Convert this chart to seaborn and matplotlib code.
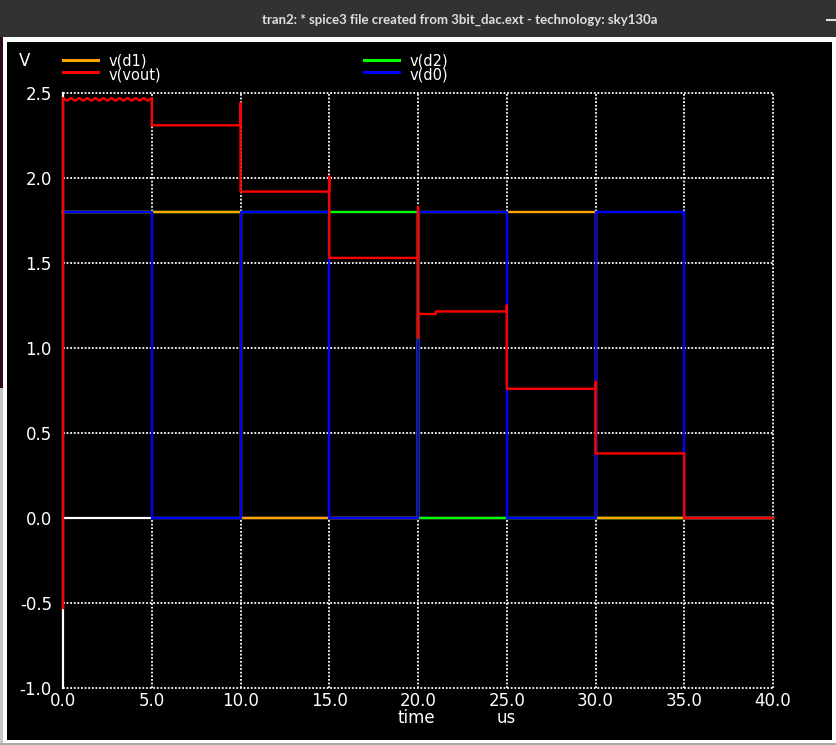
import matplotlib
matplotlib.use('Agg')
import pandas as pd
import matplotlib.pyplot as plt
import seaborn as sns
from matplotlib.patches import Rectangle
from matplotlib.lines import Line2D

# transient result of the 3 bit dac (time in us, volts)
step_edges = [0, 5, 10, 15, 20, 25, 30, 35, 40]
d0_bits = [1, 0, 1, 0, 1, 0, 1, 0]
d1_bits = [1, 1, 0, 0, 1, 1, 0, 0]
d2_bits = [1, 1, 1, 1, 0, 0, 0, 0]
logic_high = 1.8

# vout: start point, small ripple on the first code, then the steps with glitches
vout_start_t = [0.0]
vout_start_v = [-0.53]
ripple_t = [0.0, 0.23, 0.45, 0.68, 0.91, 1.14, 1.36, 1.59, 1.82, 2.05, 2.27, 2.5,
            2.73, 2.95, 3.18, 3.41, 3.64, 3.86, 4.09, 4.32, 4.55, 4.77, 5.0]
ripple_v = [2.47, 2.455, 2.47, 2.455, 2.47, 2.455, 2.47, 2.455, 2.47, 2.455, 2.47, 2.455,
            2.47, 2.455, 2.47, 2.455, 2.47, 2.455, 2.47, 2.455, 2.47, 2.455, 2.47]
vout_rest_t = [5, 10, 10, 10, 15, 15, 15, 20, 20, 20, 20, 21, 21, 25, 25, 25, 30, 30, 30, 35, 35, 40]
vout_rest_v = [2.31, 2.31, 2.44, 1.92, 1.92, 2.01, 1.53, 1.53, 1.83, 1.06, 1.20, 1.20, 1.215,
               1.215, 1.25, 0.76, 0.76, 0.80, 0.38, 0.38, 0.0, 0.0]

y_ticks = [-1.0, -0.5, 0.0, 0.5, 1.0, 1.5, 2.0, 2.5]

colors = {'v(d1)': '#ffa500', 'v(vout)': '#ff0000', 'v(d2)': '#00ff00', 'v(d0)': '#0000ff'}
draw_order = ['v(d2)', 'v(d1)', 'v(d0)', 'v(vout)']
title = 'tran2: * spice3 file created from 3bit_dac.ext - technology: sky130a'


def step_wave(bits):
    t, v = [], []
    for i, b in enumerate(bits):
        t += [step_edges[i], step_edges[i + 1]]
        v += [b * logic_high, b * logic_high]
    return t, v


frames = []
for name, bits in [('v(d2)', d2_bits), ('v(d1)', d1_bits), ('v(d0)', d0_bits)]:
    t, v = step_wave(bits)
    frames.append(pd.DataFrame({'t': t, 'v': v, 'signal': name}))
frames.append(pd.DataFrame({'t': vout_start_t + ripple_t + vout_rest_t,
                            'v': vout_start_v + ripple_v + vout_rest_v,
                            'signal': 'v(vout)'}))
df = pd.concat(frames, ignore_index=True)

W, H = 836, 745


def fx(x):
    return x / W


def fy(y):
    return 1 - y / H


fig = plt.figure(figsize=(W / 100, H / 100), dpi=100, facecolor='white')

# window decoration
fig.patches.append(Rectangle((0, fy(37)), 1, 37 / H, transform=fig.transFigure,
                             facecolor='#323232', edgecolor='none', zorder=-1))
fig.patches.append(Rectangle((0, fy(388)), fx(3), 351 / H, transform=fig.transFigure,
                             facecolor='#2c0b22', edgecolor='none', zorder=-1))
fig.patches.append(Rectangle((0, 0), fx(3), fy(388), transform=fig.transFigure,
                             facecolor='#c8c8c8', edgecolor='none', zorder=-1))
fig.patches.append(Rectangle((0, 0), 1, 2 / H, transform=fig.transFigure,
                             facecolor='#a8a8a8', edgecolor='none', zorder=-1))
fig.patches.append(Rectangle((fx(7), fy(740)), 825 / W, 698 / H, transform=fig.transFigure,
                             facecolor='black', edgecolor='none', zorder=-1))
fig.text(fx(459.5), fy(20), title, ha='center', va='center', fontsize=9.5,
         fontweight='bold', family='Lato', color='#dedede')
fig.lines.append(Line2D([fx(827), fx(835)], [fy(20), fy(20)], transform=fig.transFigure,
                        color='#e0e0e0', lw=1.5))

ax = fig.add_axes([fx(63), fy(688), 710 / W, 595 / H])
ax.set_zorder(1)
ax.set_facecolor('black')
for s in ax.spines.values():
    s.set_visible(False)

# grid: dotted, with solid zero axes
for x in step_edges[1:]:
    ax.axvline(x, color='white', lw=1.3, ls=(0, (1, 1)), zorder=0)
for y in y_ticks:
    if y != 0:
        ax.axhline(y, color='white', lw=1.3, ls=(0, (1, 1)), zorder=0)
ax.axvline(0, color='white', lw=1.6, zorder=0)
ax.axhline(0, color='white', lw=1.6, zorder=0)

sns.lineplot(data=df, x='t', y='v', hue='signal', hue_order=draw_order, palette=colors,
             sort=False, estimator=None, legend=False, lw=1.7, ax=ax)
for line in ax.lines:
    line.set_clip_on(False)

ax.set_xlim(0, 40)
ax.set_ylim(-1.0, 2.5)
ax.set_xticks(step_edges)
ax.set_xticklabels([f'{x:.1f}' for x in step_edges])
ax.set_yticks(y_ticks)
ax.set_yticklabels([f'{y:.1f}' for y in y_ticks])
ax.tick_params(axis='both', length=0, colors='white', labelsize=12)
ax.tick_params(axis='x', pad=3)
ax.tick_params(axis='y', pad=8)
ax.set_xlabel('')
ax.set_ylabel('')

# labels and legend in ngspice style
fig.text(fx(25), fy(61), 'V', color='white', fontsize=12, ha='center', va='center')
fig.text(fx(416), fy(718), 'time', color='white', fontsize=12, ha='center', va='center')
fig.text(fx(506), fy(718), 'us', color='white', fontsize=12, ha='center', va='center')

legend_items = [('v(d1)', 63, 60, 60.5), ('v(vout)', 63, 72, 75),
                ('v(d2)', 364, 60, 60.5), ('v(d0)', 364, 72, 75)]
for name, x0, y_line, y_text in legend_items:
    fig.lines.append(Line2D([fx(x0), fx(x0 + 35)], [fy(y_line), fy(y_line)],
                            transform=fig.transFigure, color=colors[name], lw=2.2))
    fig.text(fx(x0 + 46), fy(y_text), name, color='white', fontsize=10.5, ha='left', va='center')

fig.savefig('out.png', dpi=100, facecolor=fig.get_facecolor())
